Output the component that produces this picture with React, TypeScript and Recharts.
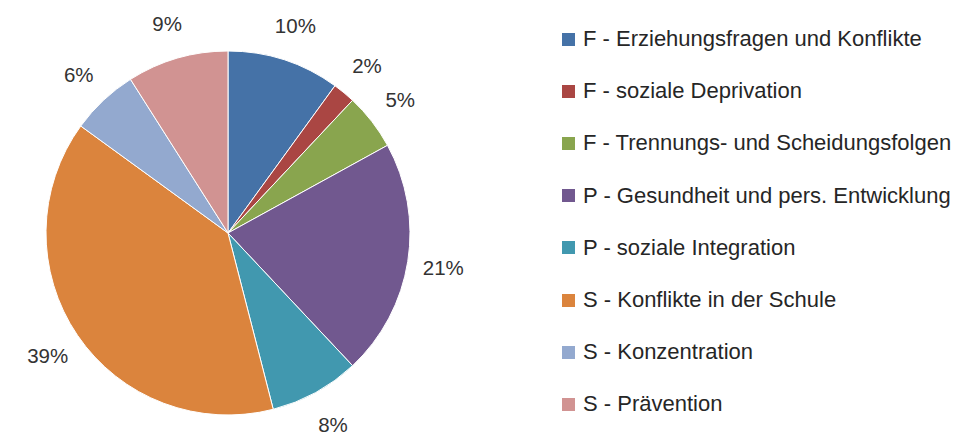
import { PieChart, Pie, Cell } from 'recharts';

const categories = [
  'F - Erziehungsfragen und Konflikte',
  'F - soziale Deprivation',
  'F - Trennungs- und Scheidungsfolgen',
  'P - Gesundheit und pers. Entwicklung',
  'P - soziale Integration',
  'S - Konflikte in der Schule',
  'S - Konzentration',
  'S - Prävention',
];

const shares = [10, 2, 5, 21, 8, 39, 6, 9];

const colors = ['#4572A7', '#AA4643', '#89A54E', '#71588F', '#4198AF', '#DB843D', '#93A9CF', '#D19392'];

const data = categories.map((name, i) => ({ name, value: shares[i] }));

const RADIAN = Math.PI / 180;
const FONT = '"Liberation Sans", Arial, sans-serif';

const renderLabel = (props: any) => {
  const { cx, cy, midAngle, outerRadius, value } = props;
  const r = outerRadius + 36;
  const x = cx + r * Math.cos(-midAngle * RADIAN);
  const y = cy + r * Math.sin(-midAngle * RADIAN);
  return (
    <text
      x={x}
      y={y}
      fill="#333"
      fontSize={20.5}
      fontFamily={FONT}
      textAnchor="middle"
      dominantBaseline="central"
    >
      {`${value}%`}
    </text>
  );
};

// legend drawn beside the pie, like the Excel one
const LegendBox = () => (
  <div
    style={{
      position: 'absolute',
      left: 562,
      top: 13,
      fontFamily: FONT,
      fontSize: 22,
      color: '#262626',
    }}
  >
    {categories.map((name, i) => (
      <div key={name} style={{ height: 52.2, display: 'flex', alignItems: 'center', whiteSpace: 'nowrap' }}>
        <span style={{ display: 'inline-block', width: 13, height: 13, background: colors[i], marginRight: 8 }} />
        <span>{name}</span>
      </div>
    ))}
  </div>
);

export default function App() {
  return (
    <div style={{ position: 'absolute', left: 0, top: 0, width: 960, height: 436, background: '#fff' }}>
      <PieChart width={960} height={436} margin={{ top: 0, right: 0, bottom: 0, left: 0 }}>
        <Pie
          data={data}
          dataKey="value"
          nameKey="name"
          cx={228}
          cy={233}
          outerRadius={182}
          startAngle={90}
          endAngle={-270}
          stroke="#fff"
          strokeWidth={1}
          label={renderLabel}
          labelLine={false}
          isAnimationActive={false}
        >
          {data.map((d, i) => (
            <Cell key={d.name} fill={colors[i]} />
          ))}
        </Pie>
      </PieChart>
      <LegendBox />
    </div>
  );
}
